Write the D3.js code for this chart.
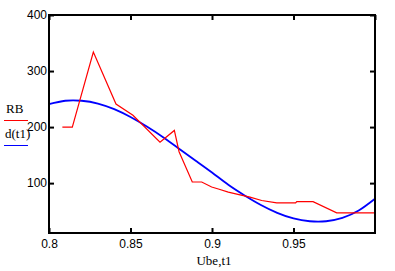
<!DOCTYPE html>
<html><head><meta charset="utf-8">
<script src="https://cdn.jsdelivr.net/npm/d3@7"></script>
<style>
html,body{margin:0;padding:0;background:#fff;}
svg{display:block;}
.tick text{font-family:"Liberation Sans",Arial,sans-serif;font-size:12px;fill:#000;}
</style></head>
<body>
<svg id="c" width="395" height="271"></svg>
<script>
// RB series (red): Ube values and RB values
const rbUbe = [0.8082, 0.8143, 0.8272, 0.8411, 0.8515, 0.8681, 0.8769, 0.8798, 0.8879, 0.8937, 0.8998, 0.9039, 0.9100, 0.9172, 0.9233, 0.9305, 0.9397, 0.9513, 0.9520, 0.9620, 0.9765, 1.0];
const rbValues = [200, 200, 334, 241, 221, 173, 194, 156, 102, 102, 93, 89.5, 84, 79, 75, 69, 64.6, 64.6, 67, 67, 47, 47];
// d(t1) series (blue)
const t1 = [0.80, 0.81, 0.82, 0.83, 0.84, 0.85, 0.86, 0.87, 0.88, 0.89, 0.90, 0.91, 0.92, 0.93, 0.94, 0.95, 0.96, 0.97, 0.98, 0.99, 1.00];
const dValues = [241, 247, 247, 242, 232, 218, 201, 182, 161, 140, 119, 97, 78, 61, 47, 37, 32, 32, 38, 51, 72];
// ticks
const xTicks = [0.8, 0.85, 0.9, 0.95];
const yTicks = [100, 200, 300, 400];
const xDomain = [0.8, 1.0];
const yDomain = [11, 400];

const svg = d3.select("#c");
const L = 49, R = 375, T = 15, B = 233;
const x = d3.scaleLinear().domain(xDomain).range([L, R]);
const y = d3.scaleLinear().domain(yDomain).range([B, T]);

// data lines
const rbData = rbUbe.map((u, i) => [u, rbValues[i]]);
const dData = t1.map((u, i) => [u, dValues[i]]);
svg.append("path").datum(dData)
  .attr("fill", "none").attr("stroke", "#0000ff").attr("stroke-width", 1.8)
  .attr("d", d3.line().x(d => x(d[0])).y(d => y(d[1])).curve(d3.curveNatural));
svg.append("path").datum(rbData)
  .attr("fill", "none").attr("stroke", "#ff0000").attr("stroke-width", 1.2)
  .attr("d", d3.line().x(d => x(d[0])).y(d => y(d[1])));

// axes (inward ticks)
function style(g){ g.select(".domain").remove(); g.selectAll(".tick line").attr("stroke","#000").attr("stroke-width",2); }
svg.append("g").attr("transform", `translate(0,${B})`)
  .call(d3.axisBottom(x).tickValues(xTicks).tickSize(-5).tickPadding(6).tickFormat(d3.format("")))
  .call(style);
svg.append("g").attr("transform", `translate(0,${T})`)
  .call(d3.axisTop(x).tickValues(xTicks.concat([1.0])).tickSize(-5).tickFormat(""))
  .call(style);
svg.append("g").attr("transform", `translate(${L},0)`)
  .call(d3.axisLeft(y).tickValues(yTicks).tickSize(-5).tickPadding(2))
  .call(style);
svg.append("g").attr("transform", `translate(${R},0)`)
  .call(d3.axisRight(y).tickValues(yTicks).tickSize(-5).tickFormat(""))
  .call(style);
svg.selectAll(".tick text").attr("font-family", null).attr("font-size", null);

// frame
svg.append("rect").attr("x", L).attr("y", T).attr("width", R - L).attr("height", B - T)
  .attr("fill", "none").attr("stroke", "#000").attr("stroke-width", 2);

// legend
const serif = '"Liberation Serif","Times New Roman",serif';
svg.append("text").attr("x", 6).attr("y", 113).attr("font-family", serif).attr("font-size", 13).text("RB");
svg.append("line").attr("x1", 4).attr("x2", 28).attr("y1", 120.5).attr("y2", 120.5).attr("stroke", "#ff0000").attr("stroke-width", 1);
svg.append("text").attr("x", 5).attr("y", 138).attr("font-family", serif).attr("font-size", 13).text("d(t1)");
svg.append("line").attr("x1", 4).attr("x2", 28).attr("y1", 145.5).attr("y2", 145.5).attr("stroke", "#0000ff").attr("stroke-width", 1);

// x axis title
svg.append("text").attr("x", 214).attr("y", 265).attr("text-anchor", "middle")
  .attr("font-family", serif).attr("font-size", 13).text("Ube,t1");
</script>
</body></html>
